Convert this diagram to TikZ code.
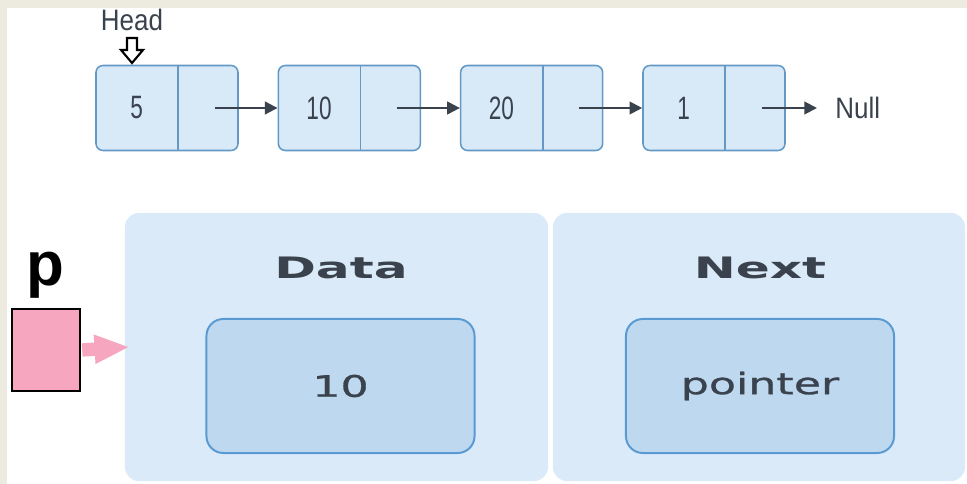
\documentclass[tikz,border=0pt]{standalone}
\usepackage{fontspec}
\setmainfont{Liberation Sans}
\newfontfamily\narrowfont[FakeStretch=0.88]{Liberation Sans}
\newfontfamily\digitfont[FakeStretch=0.7]{Liberation Sans}
\newfontfamily\widefont[FakeStretch=1.5,FakeBold=1]{DejaVu Sans}
\newfontfamily\titlefont[FakeStretch=1.7]{DejaVu Sans Bold}
\usetikzlibrary{arrows.meta,positioning,calc}
\definecolor{listblue}{HTML}{D8E9F8}
\definecolor{listedge}{HTML}{6399C4}
\definecolor{inkgrey}{HTML}{3A434D}
\definecolor{panelblue}{HTML}{DBEAF8}
\definecolor{fieldblue}{HTML}{BED8F0}
\definecolor{fieldedge}{HTML}{5A9AD2}
\definecolor{ptrpink}{HTML}{F6A7BF}
\definecolor{pagebeige}{HTML}{EDEAE0}
\tikzset{
  listnode/.style={
    draw=listedge,
    fill=listblue,
    line width=1.1pt,
    rounded corners=5pt,
    minimum width=3.55cm,
    minimum height=2.125cm,
    inner sep=0pt
  },
  valtext/.style={
    text=inkgrey,
    inner sep=0pt,
    font={\digitfont\fontsize{23pt}{23pt}\selectfont}
  },
  marktext/.style={
    text=inkgrey,
    inner sep=0pt,
    font={\narrowfont\fontsize{21pt}{21pt}\selectfont}
  },
  link/.style={
    -{Triangle[length=9pt,width=9pt]},
    line width=1.5pt,
    draw=inkgrey
  },
  headmark/.style={
    draw=black,
    fill=white,
    line width=1.5pt,
    line join=miter
  },
  panel/.style={
    fill=panelblue,
    rounded corners=10pt,
    minimum height=6.7cm,
    inner sep=0pt
  },
  fieldtitle/.style={
    text=inkgrey,
    inner sep=0pt,
    font={\titlefont\fontsize{21pt}{21pt}\selectfont}
  },
  field/.style={
    draw=fieldedge,
    fill=fieldblue,
    line width=1.4pt,
    rounded corners=12pt,
    minimum width=6.7cm,
    minimum height=3.35cm,
    text=inkgrey,
    font={\widefont\fontsize{21pt}{21pt}\selectfont}
  },
  pbox/.style={
    draw=black,
    fill=ptrpink,
    line width=1.5pt,
    minimum width=1.7cm,
    minimum height=2.05cm,
    inner sep=0pt
  },
  pinkarrow/.style={
    -{Triangle[length=25pt,width=19pt]},
    line width=9.5pt,
    draw=ptrpink
  }
}
\begin{document}
\begin{tikzpicture}[x=0.025cm, y=-0.025cm]
\useasboundingbox (0,0) rectangle (967,484);
\fill[white] (0,0) rectangle (967,484);
\fill[pagebeige] (0,0) rectangle (967,8);
\fill[pagebeige] (0,0) rectangle (7,484);

% linked list
\foreach \v [count=\i] in {5,10,20,1} {
  \node[listnode] (n\i) at ({167+182.33*(\i-1)},108) {};
  \draw[draw=listedge, line width=1.1pt] ([xshift=2.075cm]n\i.north west) -- ([xshift=2.075cm]n\i.south west);
  \node[valtext] (v\i) at ([xshift=1.0375cm]n\i.west) {\v};
  \coordinate (q\i) at ([xshift=-0.6cm]n\i.east);
}
\foreach \i [evaluate=\i as \j using int(\i+1)] in {1,2,3}
  \draw[link] (q\i) -- (n\j.west);
\node[marktext, anchor=west, inner xsep=0.45cm] (null) at (817,108) {Null};
\draw[link] (q4) -- (null.west);

% head marker
\node[marktext] (head) at (132,20) {Head};
\coordinate (hmark) at (132,38);
\draw[headmark] (hmark) ++(-5,0) -- ++(10,0) -- ++(0,12) -- ++(6,0) -- ++(-11,13) -- ++(-11,-13) -- ++(6,0) -- cycle;

% node fields
\node[panel, minimum width=10.575cm] (datapanel) at (336.5,347) {};
\node[panel, minimum width=10.3cm] (nextpanel) at (759,347) {};
\node[fieldtitle] (datatitle) at (341,268) {Data};
\node[fieldtitle] (nexttitle) at (760,268) {Next};
\node[field] (dataval) at (340.5,386) {10};
\node[field] (nextval) at (760,386) {pointer};

% pointer p
\node[inner sep=0pt, font={\bfseries\fontsize{44pt}{44pt}\selectfont}] (plabel) at (45,275) {p};
\node[pbox] (pcell) at (46,350) {};
\draw[pinkarrow] ([xshift=0.8pt]pcell.east) -- ([xshift=0.125cm]datapanel.west);
\end{tikzpicture}
\end{document}
